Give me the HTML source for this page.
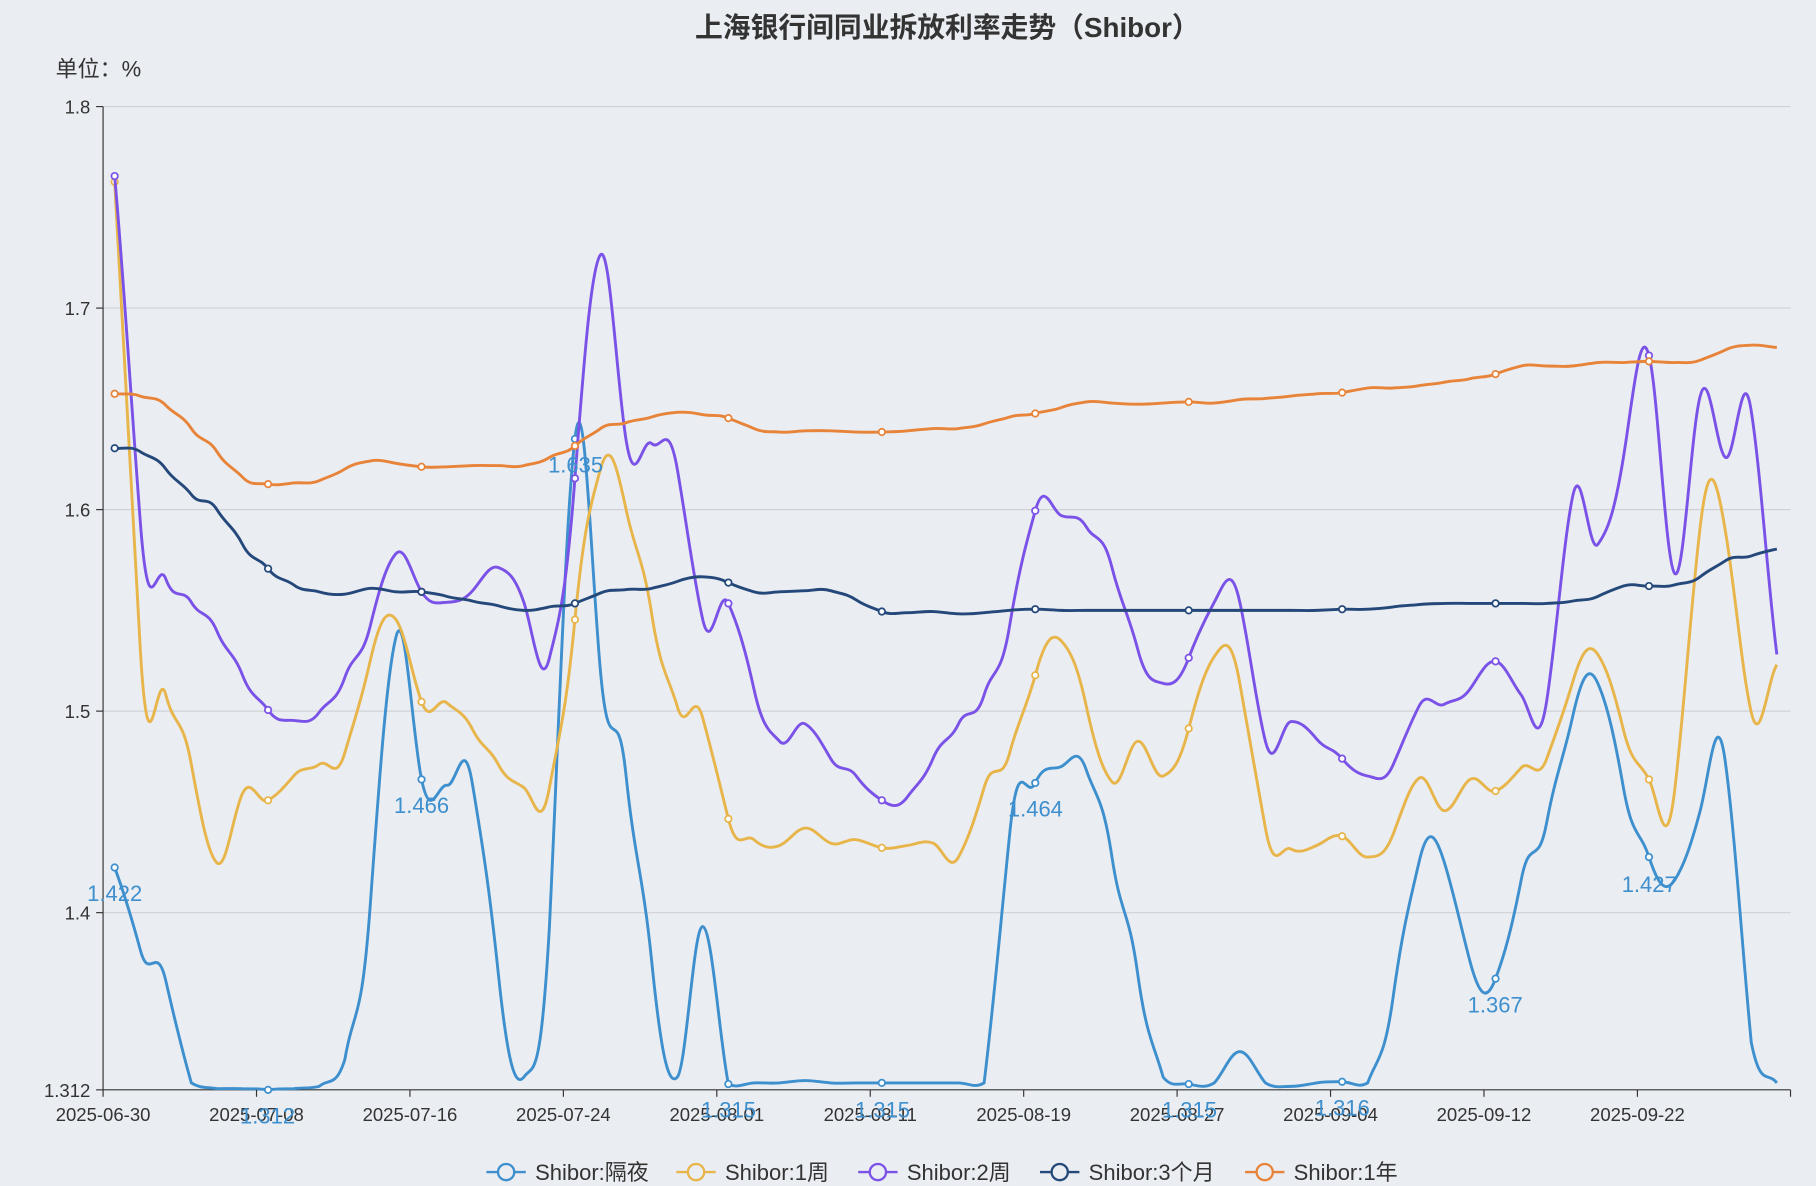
<!DOCTYPE html>
<html><head><meta charset="utf-8">
<style>
html,body{margin:0;padding:0;background:#eaedf1;}
svg{display:block;}
text{font-family:"Liberation Sans","Noto Sans CJK SC",sans-serif;}
</style></head>
<body>
<svg id="c" width="1816" height="1186" viewBox="0 0 1568 1024" xmlns="http://www.w3.org/2000/svg">
<rect width="1568" height="1024" fill="#eaedf1"/>
<text x="818" y="32" text-anchor="middle" font-size="24" font-weight="bold" fill="#333">上海银行间同业拆放利率走势（Shibor）</text>
<text x="48" y="66" font-size="19" fill="#333">单位：%</text>
<g stroke="#cfd3d8" stroke-width="1">
<line x1="89" y1="92" x2="1546" y2="92"/>
<line x1="89" y1="266" x2="1546" y2="266"/>
<line x1="89" y1="440" x2="1546" y2="440"/>
<line x1="89" y1="614" x2="1546" y2="614"/>
<line x1="89" y1="788" x2="1546" y2="788"/>
</g>
<g stroke="#333" stroke-width="1">
<line x1="89" y1="92" x2="89" y2="941"/>
<line x1="89" y1="941" x2="1546" y2="941"/>
<line x1="83" y1="92" x2="89" y2="92"/>
<line x1="83" y1="266" x2="89" y2="266"/>
<line x1="83" y1="440" x2="89" y2="440"/>
<line x1="83" y1="614" x2="89" y2="614"/>
<line x1="83" y1="788" x2="89" y2="788"/>
<line x1="83" y1="941" x2="89" y2="941"/>
</g>
<g font-size="16" fill="#333" text-anchor="end">
<text x="78" y="98">1.8</text><text x="78" y="272">1.7</text><text x="78" y="446">1.6</text>
<text x="78" y="620">1.5</text><text x="78" y="794">1.4</text><text x="78" y="947">1.312</text>
</g>
<g id="xt" font-size="16" fill="#333" text-anchor="middle"></g>
<g id="series"></g>
<g id="labels" font-size="19" fill="#3d8fce" text-anchor="middle"></g>
<g id="legend" font-size="19" fill="#333"></g>
</svg>
<script>
var NS="http://www.w3.org/2000/svg";
function el(t,a,p){var e=document.createElementNS(NS,t);for(var k in a)e.setAttribute(k,a[k]);p.appendChild(e);return e;}
var svg=document.getElementById('c');
var xt=document.getElementById('xt');
var ticks=["2025-06-30","2025-07-08","2025-07-16","2025-07-24","2025-08-01","2025-08-11","2025-08-19","2025-08-27","2025-09-04","2025-09-12","2025-09-22"];
var step=22.08;
ticks.forEach(function(t,i){var x=89+i*6*step;el('line',{x1:x,y1:941,x2:x,y2:947,stroke:'#333'},svg);var tx=el('text',{x:x,y:968},xt);tx.textContent=t;});
el('line',{x1:1546,y1:941,x2:1546,y2:947,stroke:'#333'},svg);
var S=[
{n:"Shibor:隔夜",c:"#3d8fce",y:[749,820,847,935,940,940,941,940,938,915,780,550,673,678,678,840,930,800,379,580,670,830,930,800,936,935,935,933,935,935,935,935,935,935,935,720,676,662,665,740,840,930,936,935,908,935,938,935,934,935,860,745,745,830,845,760,710,620,590,680,740,760,700,660,900,935]},
{n:"Shibor:1周",c:"#e8b54a",y:[157,560,600,660,745,685,691,670,660,650,570,535,606,607,630,660,680,680,535,405,440,530,610,620,707,725,730,715,728,725,732,730,728,740,680,650,583,553,610,675,640,670,629,567,590,715,733,730,722,740,720,672,700,673,683,663,655,590,565,630,673,683,455,460,615,574]},
{n:"Shibor:2周",c:"#7b52e8",y:[152,450,500,520,545,583,613,622,615,585,540,478,511,520,510,490,520,568,413,220,380,383,405,535,521,595,640,625,655,670,691,688,655,625,600,540,441,445,455,490,560,590,568,520,520,640,623,638,655,670,660,610,608,595,571,600,605,430,470,395,307,495,342,395,355,565]},
{n:"Shibor:3个月",c:"#24487a",y:[387,390,405,427,440,470,491,505,511,513,508,511,511,515,519,523,527,524,521,512,509,508,502,498,503,511,511,510,510,518,528,529,528,530,529,527,526,527,527,527,527,527,527,527,527,527,527,527,526,526,524,522,521,521,521,521,521,519,515,506,506,505,498,484,480,474]},
{n:"Shibor:1年",c:"#e8843a",y:[340,342,350,370,390,412,418,417,415,405,398,400,403,403,402,402,402,395,385,370,365,360,356,358,361,370,373,372,372,373,373,372,370,370,366,360,357,352,347,348,349,348,347,348,345,344,342,340,339,335,335,333,330,327,323,316,316,316,313,313,312,313,311,302,298,300]}
];
var g=document.getElementById('series');
function px(i){return 99+i*step;}
S.forEach(function(s){
 var p=s.y.map(function(y,i){return [px(i),y];});
 var d="M"+p[0][0]+","+p[0][1];var t=0.3;
 for(var i=0;i<p.length-1;i++){
  var p0=p[i-1]||p[i],p1=p[i],p2=p[i+1],p3=p[i+2]||p2;
  var c1=[p1[0]+step*0.36,Math.min(940,p1[1]+(p2[1]-p0[1])*t)];
  var c2=[p2[0]-step*0.36,Math.min(940,p2[1]-(p3[1]-p1[1])*t)];
  d+=" C"+c1[0].toFixed(1)+","+c1[1].toFixed(1)+" "+c2[0].toFixed(1)+","+c2[1].toFixed(1)+" "+p2[0].toFixed(1)+","+p2[1];
 }
 el('path',{d:d,fill:'none',stroke:s.c,'stroke-width':2.5},g);
 for(var i=0;i<p.length;i+=6){el('circle',{cx:p[i][0],cy:p[i][1],r:2.8,fill:'#fff',stroke:s.c,'stroke-width':1.5},g);}
});
var L=[[99,778,"1.422"],[231,970,"1.312"],[364,702,"1.466"],[497,408,"1.635"],[629,965,"1.315"],[762,965,"1.315"],[894,705,"1.464"],[1027,965,"1.315"],[1159,963,"1.316"],[1291,874,"1.367"],[1424,770,"1.427"]];
var lg=document.getElementById('labels');
L.forEach(function(l){var t=el('text',{x:l[0],y:l[1]},lg);t.textContent=l[2];});
var leg=document.getElementById('legend');
var lx=[420,584,741,898,1075];
S.forEach(function(s,i){
 var x=lx[i];
 el('line',{x1:x,y1:1012,x2:x+34,y2:1012,stroke:s.c,'stroke-width':2},leg);
 el('circle',{cx:x+17,cy:1012,r:7,fill:'#eaedf1',stroke:s.c,'stroke-width':2},leg);
 var t=el('text',{x:x+42,y:1019},leg);t.textContent=s.n;
});
</script>
</body></html>
